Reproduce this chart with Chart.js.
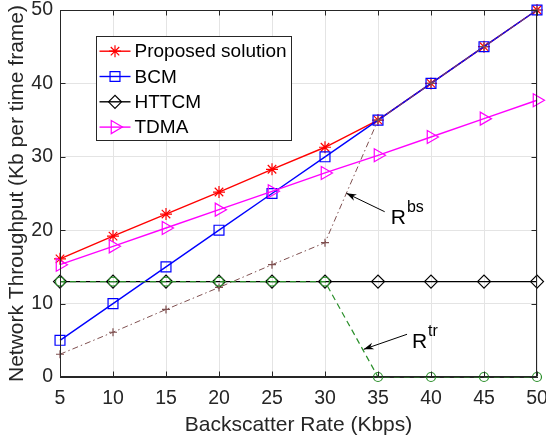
<!DOCTYPE html>
<html>
<head>
<meta charset="utf-8">
<script src="https://cdn.jsdelivr.net/npm/chart.js@4/dist/chart.umd.min.js"></script>
<style>
  html, body { margin: 0; padding: 0; background: #fff; }
  canvas { display: block; }
</style>
</head>
<body>
<canvas id="chart" width="546" height="439"></canvas>
<script>
// Data
const rates = [5, 10, 15, 20, 25, 30, 35, 40, 45, 50];
const proposed = [16.1, 19.2, 22.2, 25.2, 28.3, 31.3, 35, 40, 45, 50];
const bcm = [5, 10, 15, 20, 25, 30, 35, 40, 45, 50];
const httcm = [13, 13, 13, 13, 13, 13, 13, 13, 13, 13];
const tdma = [15.3, 17.8, 20.3, 22.8, 25.3, 27.8, 30.2, 32.7, 35.2, 37.7];
const rBs = [3.1, 6.1, 9.2, 12.2, 15.3, 18.3, 35, 40, 45, 50];
const rTr = [13, 13, 13, 13, 13, 13, 0, 0, 0, 0];
const xTicks = [5, 10, 15, 20, 25, 30, 35, 40, 45, 50];
const yTicks = [0, 10, 20, 30, 40, 50];

// text labels with arrows (data coordinates)
const notes = [
    { base: 'R', sup: 'bs', at: [36.2, 20.84], tail: [35.63, 22.52], tip: [32.02, 25.03] },
    { base: 'R', sup: 'tr', at: [38.2, 3.91], tail: [37.74, 5.82], tip: [33.65, 3.77] }
];

const FONT = "'Liberation Sans', Arial, Helvetica, sans-serif";
const AXIS = '#262626';

function pts(values) {
    return values.map((v, i) => ({ x: rates[i], y: v }));
}

function series(label, values, color, style, extra) {
    return Object.assign({
        label: label,
        data: pts(values),
        borderColor: color,
        backgroundColor: 'rgba(0,0,0,0)',
        pointBorderColor: color,
        pointBackgroundColor: 'rgba(0,0,0,0)',
        pointStyle: style,
        pointRadius: 6,
        pointBorderWidth: 1.2,
        borderWidth: 1.4,
        tension: 0,
        fill: false,
        clip: false
    }, extra || {});
}

const datasets = [
    series('Proposed solution', proposed, '#ff0000', 'star', { pointRadius: 6, order: 6 }),
    series('BCM', bcm, '#0000ff', 'rect', { pointRadius: 7, order: 5 }),
    series('HTTCM', httcm, '#000000', 'rectRot', { pointRadius: 6.5, order: 4 }),
    series('TDMA', tdma, '#ff00ff', 'triangle', { pointRadius: 7.5, pointRotation: 90, order: 3 }),
    series('Rbs', rBs, '#7f5050', 'cross', { pointRadius: 4, borderWidth: 1, borderDash: [6, 3, 1.5, 3], order: 2 }),
    series('Rtr', rTr, '#2a8f2a', 'circle', { pointRadius: 4.5, borderWidth: 1.2, borderDash: [6, 4], order: 1 })
];

// box, inward ticks, legend and arrows
const overlay = {
    id: 'overlay',
    afterDatasetsDraw(chart) {
        const { ctx, chartArea: a, scales: { x, y } } = chart;
        ctx.save();
        ctx.strokeStyle = AXIS;
        ctx.lineWidth = 1;
        const L = Math.round(a.left) + 0.5, R = Math.round(a.right) - 0.5;
        const T = Math.round(a.top) + 0.5, B = Math.round(a.bottom) - 0.5;
        ctx.strokeRect(L, T, R - L, B - T);
        ctx.beginPath();
        xTicks.forEach(v => {
            const px = Math.round(x.getPixelForValue(v)) + 0.5;
            ctx.moveTo(px, B); ctx.lineTo(px, B - 5);
            ctx.moveTo(px, T); ctx.lineTo(px, T + 5);
        });
        yTicks.forEach(v => {
            const py = Math.round(y.getPixelForValue(v)) + 0.5;
            ctx.moveTo(L, py); ctx.lineTo(L + 5, py);
            ctx.moveTo(R, py); ctx.lineTo(R - 5, py);
        });
        ctx.stroke();

        // legend
        const bx = Math.round(a.left + 36) + 0.5, by = Math.round(a.top + 26) + 0.5;
        ctx.fillStyle = '#fff';
        ctx.fillRect(bx, by, 195, 104);
        ctx.strokeRect(bx, by, 195, 104);
        ctx.font = '19px ' + FONT;
        ctx.textBaseline = 'middle';
        ctx.textAlign = 'left';
        for (let i = 0; i < 4; i++) {
            const ds = chart.data.datasets[i];
            const cy = by + 14.7 + i * 25.3;
            ctx.strokeStyle = ds.borderColor;
            ctx.lineWidth = ds.borderWidth;
            ctx.beginPath();
            ctx.moveTo(bx + 3, cy); ctx.lineTo(bx + 34, cy);
            ctx.stroke();
            ctx.fillStyle = 'rgba(0,0,0,0)';
            ctx.lineWidth = ds.pointBorderWidth;
            Chart.helpers.drawPoint(ctx, {
                pointStyle: ds.pointStyle,
                rotation: ds.pointRotation || 0,
                radius: ds.pointRadius,
                borderWidth: ds.pointBorderWidth
            }, bx + 18.5, cy);
            ctx.fillStyle = '#000';
            ctx.fillText(ds.label, bx + 38, cy + 1);
        }

        // annotations
        ctx.strokeStyle = '#000';
        ctx.fillStyle = '#000';
        ctx.lineWidth = 1;
        notes.forEach(n => {
            const x0 = x.getPixelForValue(n.tail[0]), y0 = y.getPixelForValue(n.tail[1]);
            const x1 = x.getPixelForValue(n.tip[0]), y1 = y.getPixelForValue(n.tip[1]);
            const ang = Math.atan2(y1 - y0, x1 - x0);
            ctx.beginPath();
            ctx.moveTo(x0, y0); ctx.lineTo(x1, y1);
            ctx.stroke();
            ctx.beginPath();
            ctx.moveTo(x1, y1);
            ctx.lineTo(x1 - 10 * Math.cos(ang) + 3.5 * Math.sin(ang), y1 - 10 * Math.sin(ang) - 3.5 * Math.cos(ang));
            ctx.lineTo(x1 - 7 * Math.cos(ang), y1 - 7 * Math.sin(ang));
            ctx.lineTo(x1 - 10 * Math.cos(ang) - 3.5 * Math.sin(ang), y1 - 10 * Math.sin(ang) + 3.5 * Math.cos(ang));
            ctx.closePath();
            ctx.fill();

            const tx = x.getPixelForValue(n.at[0]), ty = y.getPixelForValue(n.at[1]);
            ctx.textBaseline = 'alphabetic';
            ctx.font = '21px ' + FONT;
            ctx.fillText(n.base, tx, ty);
            const w = ctx.measureText(n.base).width;
            ctx.font = '16px ' + FONT;
            ctx.fillText(n.sup, tx + w + 1, ty - 12);
        });
        ctx.restore();
    }
};

new Chart(document.getElementById('chart'), {
    type: 'line',
    data: { datasets: datasets },
    options: {
        responsive: false,
        animation: false,
        layout: { padding: { top: 10, right: 9, left: 0, bottom: 0 } },
        plugins: {
            legend: { display: false },
            tooltip: { enabled: false }
        },
        scales: {
            x: {
                type: 'linear',
                min: 5,
                max: 50,
                afterBuildTicks: s => { s.ticks = xTicks.map(v => ({ value: v })); },
                afterFit: s => { s.height = 62; s.paddingLeft = 0; s.paddingRight = 0; },
                grid: { color: '#e4e4e4', drawTicks: false },
                border: { color: AXIS, width: 1 },
                ticks: {
                    color: AXIS,
                    font: { family: FONT, size: 19.5 },
                    padding: 10,
                    maxRotation: 0,
                    autoSkip: false
                },
                title: {
                    display: true,
                    text: 'Backscatter Rate (Kbps)',
                    color: AXIS,
                    font: { family: FONT, size: 21 },
                    padding: { top: 0, bottom: 1 }
                }
            },
            y: {
                type: 'linear',
                min: 0,
                max: 50,
                afterBuildTicks: s => { s.ticks = yTicks.map(v => ({ value: v })); },
                afterFit: s => { s.width = 60; s.paddingTop = 0; s.paddingBottom = 0; },
                grid: { color: '#e4e4e4', drawTicks: false },
                border: { color: AXIS, width: 1 },
                ticks: {
                    color: AXIS,
                    font: { family: FONT, size: 19.5 },
                    padding: 7
                },
                title: {
                    display: true,
                    text: 'Network Throughput (Kb per time frame)',
                    color: AXIS,
                    font: { family: FONT, size: 21 },
                    padding: { top: 5, bottom: 0 }
                }
            }
        }
    },
    plugins: [overlay]
});
</script>
</body>
</html>
